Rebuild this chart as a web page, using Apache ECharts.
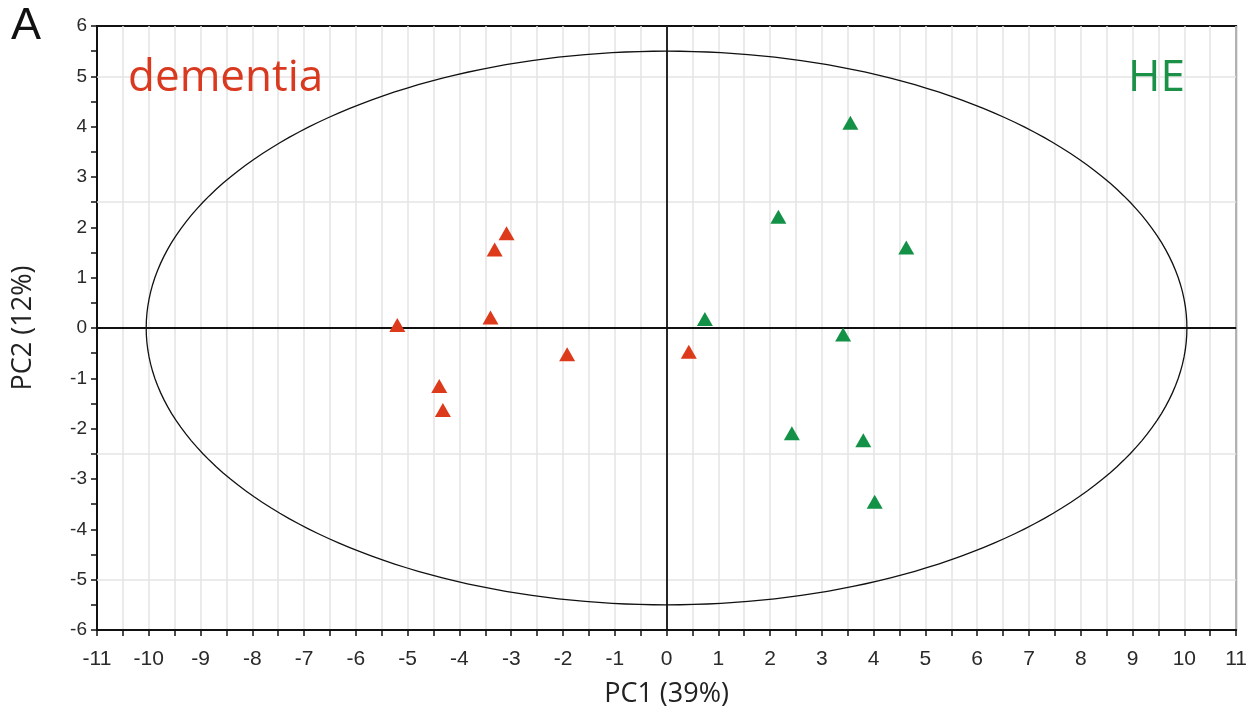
<!DOCTYPE html>
<html>
<head>
<meta charset="utf-8">
<title>PCA score plot</title>
<script src="https://cdn.jsdelivr.net/npm/echarts@6/dist/echarts.min.js"></script>
<style>
    html, body { margin: 0; padding: 0; background: #fff; }
    #main { width: 1250px; height: 715px; }
</style>
</head>
<body>
<div id="main"></div>
<script>
// 数据：PC1 / PC2 得分
var dementiaX = [-5.20, -4.39, -4.32, -3.40, -3.32, -3.09, -1.92, 0.43];
var dementiaY = [0.06, -1.15, -1.63, 0.21, 1.56, 1.88, -0.52, -0.47];
var heX = [3.55, 2.16, 4.63, 0.74, 3.41, 2.42, 3.80, 4.02];
var heY = [4.08, 2.21, 1.60, 0.18, -0.13, -2.09, -2.23, -3.45];
// 置信椭圆 (中心x, 中心y, 半轴x, 半轴y)
var ellipse = [[0, 0, 10.05, 5.5]];
// 横向网格线位置
var gridY = [-5, -2.5, 2.5, 5];

function pairs(xs, ys) {
    var out = [];
    for (var i = 0; i < xs.length; i++) {
        out.push([xs[i], ys[i]]);
    }
    return out;
}

var myChart = echarts.init(document.getElementById('main'));
var option = null;

option = {
    backgroundColor: '#fff',
    animation: false,
    grid: {
        left: 97,
        right: 13,
        top: 26,
        bottom: 85,
        containLabel: false,
        show: true,
        backgroundColor: '#fff',
        borderColor: '#111',
        borderWidth: 2
    },
    graphic: [
        { type: 'text', z: 100, left: 11, top: 4, style: { text: 'A', font: '45px "Liberation Sans"', fill: '#111' } },
        { type: 'text', z: 100, x: 128, y: 78, style: { text: 'dementia', font: '44px "Open Sans"', fill: '#d93a1f', verticalAlign: 'middle' } },
        { type: 'text', z: 100, x: 1128, y: 78, style: { text: 'HE', font: '44px "Open Sans"', fill: '#1a9146', verticalAlign: 'middle' } }
    ],
    xAxis: {
        type: 'value',
        min: -11,
        max: 11,
        interval: 1,
        name: 'PC1 (39%)',
        nameLocation: 'middle',
        nameGap: 51,
        nameTextStyle: { fontFamily: 'Open Sans', fontSize: 27, color: '#222' },
        axisLine: { onZero: false, lineStyle: { color: '#111', width: 2 } },
        axisTick: { length: 6, lineStyle: { color: '#111', width: 1.5 } },
        minorTick: { show: true, splitNumber: 2, length: 6, lineStyle: { color: '#111', width: 1.5 } },
        axisLabel: { margin: 19, fontFamily: 'Liberation Sans', fontSize: 21, color: '#2a2a2a' },
        splitLine: { show: true, lineStyle: { color: '#e4e4e4', width: 1.5 } },
        minorSplitLine: { show: true, lineStyle: { color: '#e4e4e4', width: 1.5 } }
    },
    yAxis: {
        type: 'value',
        min: -6,
        max: 6,
        interval: 1,
        name: 'PC2 (12%)',
        nameLocation: 'middle',
        nameGap: 60,
        nameRotate: 90,
        nameTextStyle: { fontFamily: 'Open Sans', fontSize: 27, color: '#222' },
        axisLine: { onZero: false, lineStyle: { color: '#111', width: 2 } },
        axisTick: { length: 6, lineStyle: { color: '#111', width: 1.5 } },
        minorTick: { show: true, splitNumber: 2, length: 6, lineStyle: { color: '#111', width: 1.5 } },
        axisLabel: { margin: 10, fontFamily: 'Liberation Sans', fontSize: 19, color: '#2a2a2a' },
        splitLine: { show: false }
    },
    series: [
        {
            // 横向浅灰网格线
            name: 'grid',
            type: 'line',
            data: [],
            silent: true,
            markLine: {
                z: 1,
                silent: true,
                symbol: 'none',
                label: { show: false },
                lineStyle: { color: '#e4e4e4', width: 1.5, type: 'solid' },
                emphasis: { disabled: true },
                data: gridY.map(function (v) { return { yAxis: v }; })
            }
        },
        {
            name: 'ellipse',
            type: 'custom',
            silent: true,
            z: 3,
            data: ellipse,
            renderItem: function (params, api) {
                var pts = [];
                for (var k = 0; k <= 240; k++) {
                    var t = k / 240 * Math.PI * 2;
                    pts.push(api.coord([
                        api.value(0) + api.value(2) * Math.cos(t),
                        api.value(1) + api.value(3) * Math.sin(t)
                    ]));
                }
                return {
                    type: 'polyline',
                    shape: { points: pts },
                    style: { stroke: '#111', lineWidth: 1.3, fill: null }
                };
            },
            markLine: {
                z: 3,
                silent: true,
                symbol: 'none',
                label: { show: false },
                lineStyle: { color: '#111', width: 1.8, type: 'solid' },
                emphasis: { disabled: true },
                data: [{ xAxis: 0 }, { yAxis: 0 }]
            }
        },
        {
            name: 'dementia',
            type: 'scatter',
            symbol: 'triangle',
            symbolSize: [16, 14],
            z: 5,
            itemStyle: { color: '#dd3a1b', opacity: 1 },
            data: pairs(dementiaX, dementiaY)
        },
        {
            name: 'HE',
            type: 'scatter',
            symbol: 'triangle',
            symbolSize: [16, 14],
            z: 5,
            itemStyle: { color: '#139147', opacity: 1 },
            data: pairs(heX, heY)
        }
    ]
};

if (option && typeof option === "object") {
    myChart.setOption(option, true);
}
</script>
</body>
</html>
